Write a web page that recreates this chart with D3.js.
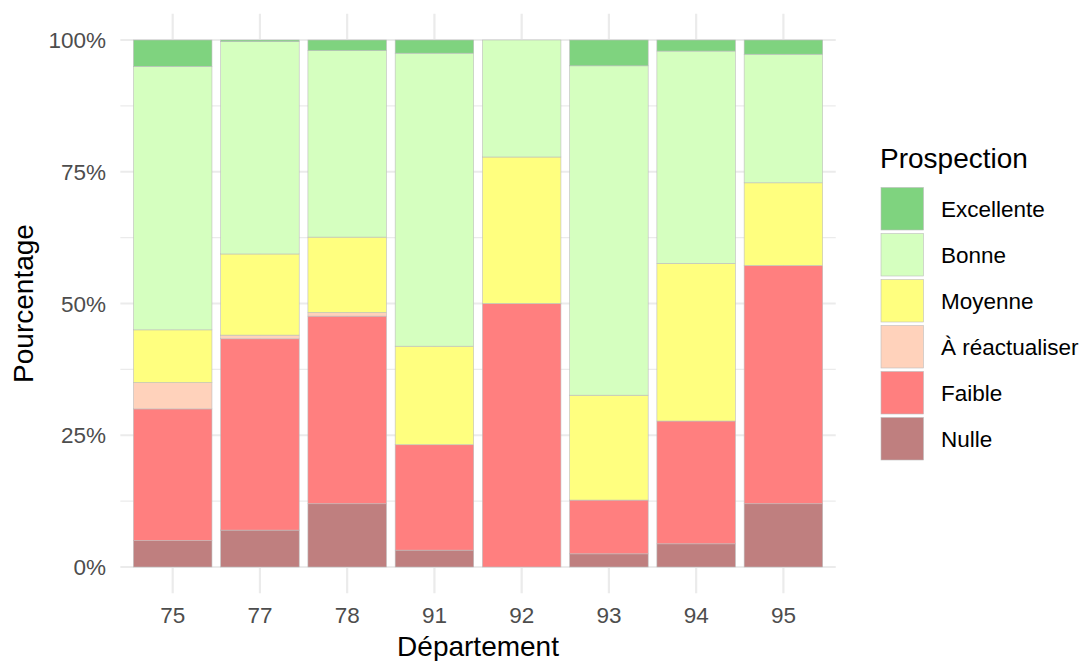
<!DOCTYPE html>
<html>
<head>
<meta charset="utf-8">
<script src="https://cdn.jsdelivr.net/npm/d3@7"></script>
<style>
  body { margin: 0; background: #fff; }
  text { font-family: "Liberation Sans", Arial, Helvetica, sans-serif; }
</style>
</head>
<body>
<div id="chart"></div>
<script>
// departements on the x axis
const departements = ["75", "77", "78", "91", "92", "93", "94", "95"];

// legend order (top of the stack first)
const categories = ["Excellente", "Bonne", "Moyenne", "À réactualiser", "Faible", "Nulle"];
const colours = ["#7fd37f", "#d5ffbf", "#ffff7f", "#ffd2bb", "#ff7f7f", "#bf7f7f"];

// percentages per departement
const nulle        = [5.0, 7.0, 12.0, 3.2, 0.0, 2.5, 4.4, 12.0];
const faible       = [25.0, 36.3, 35.6, 20.0, 50.0, 10.2, 23.3, 45.2];
const reactualiser = [5.0, 0.7, 0.7, 0.0, 0.0, 0.0, 0.0, 0.0];
const moyenne      = [10.0, 15.4, 14.3, 18.7, 27.8, 19.9, 29.9, 15.7];
const bonne        = [50.0, 40.3, 35.4, 55.6, 22.2, 62.5, 40.3, 24.4];
const excellente   = [5.0, 0.3, 2.0, 2.5, 0.0, 4.9, 2.1, 2.7];

const yTicks = [0, 25, 50, 75, 100];
const yMinor = [12.5, 37.5, 62.5, 87.5];

const width = 1085;
const height = 661;

const table = departements.map((d, i) => ({
    dep: d,
    "Nulle": nulle[i],
    "Faible": faible[i],
    "À réactualiser": reactualiser[i],
    "Moyenne": moyenne[i],
    "Bonne": bonne[i],
    "Excellente": excellente[i]
}));

const colour = d3.scaleOrdinal().domain(categories).range(colours);

const x = d3.scaleBand()
    .domain(departements)
    .range([120.35, 835.75])
    .paddingInner(0.1)
    .paddingOuter(0.15);

const y = d3.scaleLinear().domain([0, 100]).range([567, 40]);

const svg = d3.select("#chart")
    .append("svg")
    .attr("width", width)
    .attr("height", height);

const panelTop = y(105);
const panelBottom = y(-5);

// grid
svg.append("g")
    .selectAll("line")
    .data(yMinor)
    .enter()
    .append("line")
    .attr("x1", 120.35).attr("x2", 835.75)
    .attr("y1", d => y(d)).attr("y2", d => y(d))
    .attr("stroke", "#ebebeb")
    .attr("stroke-width", 1.1);

svg.append("g")
    .selectAll("line")
    .data(yTicks)
    .enter()
    .append("line")
    .attr("x1", 120.35).attr("x2", 835.75)
    .attr("y1", d => y(d)).attr("y2", d => y(d))
    .attr("stroke", "#ebebeb")
    .attr("stroke-width", 2.2);

svg.append("g")
    .selectAll("line")
    .data(departements)
    .enter()
    .append("line")
    .attr("x1", d => x(d) + x.bandwidth() / 2)
    .attr("x2", d => x(d) + x.bandwidth() / 2)
    .attr("y1", panelTop).attr("y2", panelBottom)
    .attr("stroke", "#ebebeb")
    .attr("stroke-width", 2.2);

// stacked bars, Nulle at the bottom
const stackKeys = categories.slice().reverse();
const series = d3.stack().keys(stackKeys)(table);

svg.append("g")
    .selectAll("g")
    .data(series)
    .enter()
    .append("g")
    .attr("fill", d => colour(d.key))
    .selectAll("rect")
    .data(d => d.filter(s => s[1] - s[0] > 0))
    .enter()
    .append("rect")
    .attr("x", d => x(d.data.dep))
    .attr("width", x.bandwidth())
    .attr("y", d => y(d[1]))
    .attr("height", d => y(d[0]) - y(d[1]))
    .attr("stroke", "#bdbdbd")
    .attr("stroke-width", 0.6);

// axis labels
svg.append("g")
    .selectAll("text")
    .data(yTicks)
    .enter()
    .append("text")
    .attr("x", 106)
    .attr("y", d => y(d) + 8)
    .attr("text-anchor", "end")
    .attr("fill", "#4d4d4d")
    .attr("font-size", "22.5px")
    .text(d => d + "%");

svg.append("g")
    .selectAll("text")
    .data(departements)
    .enter()
    .append("text")
    .attr("x", d => x(d) + x.bandwidth() / 2)
    .attr("y", 623)
    .attr("text-anchor", "middle")
    .attr("fill", "#4d4d4d")
    .attr("font-size", "22.5px")
    .text(d => d);

svg.append("text")
    .attr("x", (120.35 + 835.75) / 2)
    .attr("y", 656)
    .attr("text-anchor", "middle")
    .attr("font-size", "28px")
    .text("Département");

svg.append("text")
    .attr("transform", `translate(33, ${y(50)}) rotate(-90)`)
    .attr("text-anchor", "middle")
    .attr("font-size", "28px")
    .text("Pourcentage");

// legend
const legend = svg.append("g").attr("transform", "translate(881, 0)");

legend.append("text")
    .attr("x", -1)
    .attr("y", 168)
    .attr("font-size", "28px")
    .text("Prospection");

const item = legend.selectAll(".item")
    .data(categories)
    .enter()
    .append("g")
    .attr("class", "item")
    .attr("transform", (d, i) => `translate(0, ${187.5 + i * 46})`);

item.append("rect")
    .attr("width", 42.5)
    .attr("height", 42.5)
    .attr("fill", d => colour(d))
    .attr("stroke", "#bdbdbd")
    .attr("stroke-width", 0.6);

item.append("text")
    .attr("x", 60)
    .attr("y", 21.25 + 8)
    .attr("font-size", "22.5px")
    .attr("fill", "#000")
    .text(d => d);
</script>
</body>
</html>
